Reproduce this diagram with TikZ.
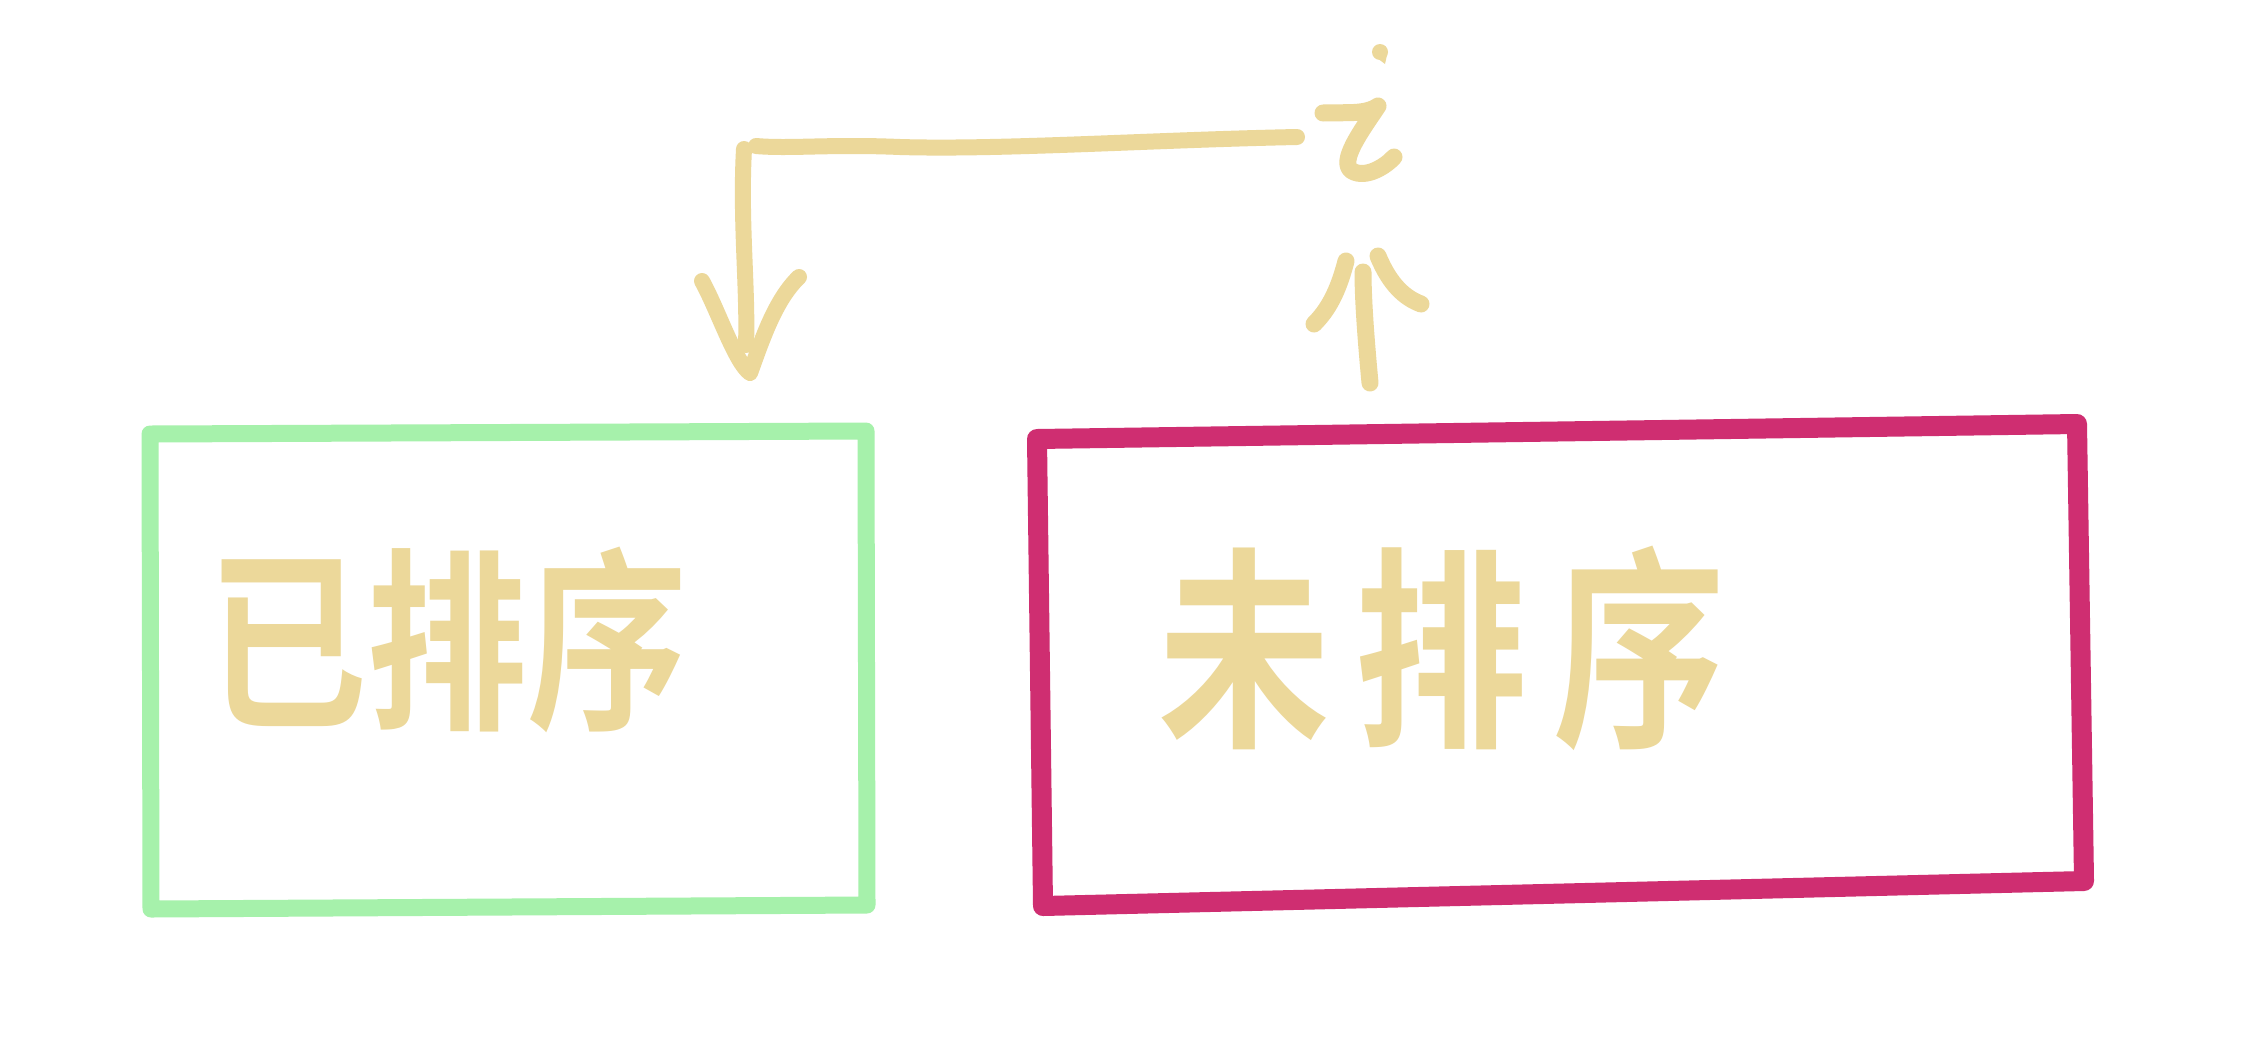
\documentclass[tikz,border=0pt]{standalone}
\usepackage{fontspec}
\newfontfamily\cjk{Noto Sans CJK SC}[BoldFont={* Bold}]
\definecolor{sortgreen}{RGB}{166,241,171}
\definecolor{unsortpink}{RGB}{207,46,113}
\definecolor{inktan}{RGB}{236,216,154}
\begin{document}
\begin{tikzpicture}[x=1pt,y=-1pt,
  boxline/.style={line width=18pt,line join=round,line cap=round},
  ink/.style={draw=inktan,line width=16pt,line cap=round,line join=round},
  boxlabel/.style={text=inktan,inner sep=0pt,anchor=center}]
\useasboundingbox[fill=white] (0,0) rectangle (2261,1061);
% sorted box
\coordinate (s1) at (150,434);
\coordinate (s2) at (866,431);
\coordinate (s3) at (867,905);
\coordinate (s4) at (151,909);
\draw[boxline,draw=sortgreen,line width=17pt] (s1)--(s2)--(s3)--(s4)--cycle;
\node[boxlabel,font=\cjk\bfseries\fontsize{160}{160}\selectfont] (sorted) at (447,640) {\scalebox{1}[1.22]{已排序}};
% unsorted box
\coordinate (u1) at (1037,439);
\coordinate (u2) at (2077,424);
\coordinate (u3) at (2084,881);
\coordinate (u4) at (1043,906);
\draw[boxline,draw=unsortpink,line width=20pt] (u1)--(u2)--(u3)--(u4)--cycle;
\node[boxlabel,font=\cjk\bfseries\fontsize{172}{172}\selectfont] (unsorted) at (1442,648) {\scalebox{1}[1.25]{未\hspace{26pt}排\hspace{26pt}序}};
% connector pieces
\coordinate (h1) at (1297,137);
\coordinate (h2) at (756,146);
\coordinate (v1) at (744,149);
\coordinate (v2) at (746,345);
\coordinate (tip) at (750,373);
\draw[ink] (h1) .. controls (1150,140) and (1000,150) .. (900,147) .. controls (830,144) and (790,149) .. (h2);
\draw[ink] (v1) .. controls (740,220) and (748,290) .. (v2);
\draw[ink] (702,281) .. controls (718,310) and (735,362) .. (tip) .. controls (762,340) and (775,300) .. (799,277);
% upward stroke from the unsorted box
\coordinate (a1) at (1370,383);
\coordinate (a2) at (1363,272);
\draw[ink,line width=17pt] (a1) .. controls (1366,340) and (1363,300) .. (a2);
\draw[ink,line width=17pt] (1346,261) .. controls (1338,292) and (1328,310) .. (1314,324);
\draw[ink,line width=17pt] (1378,256) .. controls (1390,285) and (1405,298) .. (1421,304);
% corner stroke
\fill[inktan] (1380,52) circle (8);
\fill[inktan] (1373,55) -- (1387,55) -- (1385,64) -- cycle;
\draw[ink,line width=17pt] (1323,113) .. controls (1345,112) and (1365,115) .. (1378,106) .. controls (1362,130) and (1338,162) .. (1352,171) .. controls (1366,179) and (1386,166) .. (1394,157);
\end{tikzpicture}
\end{document}
